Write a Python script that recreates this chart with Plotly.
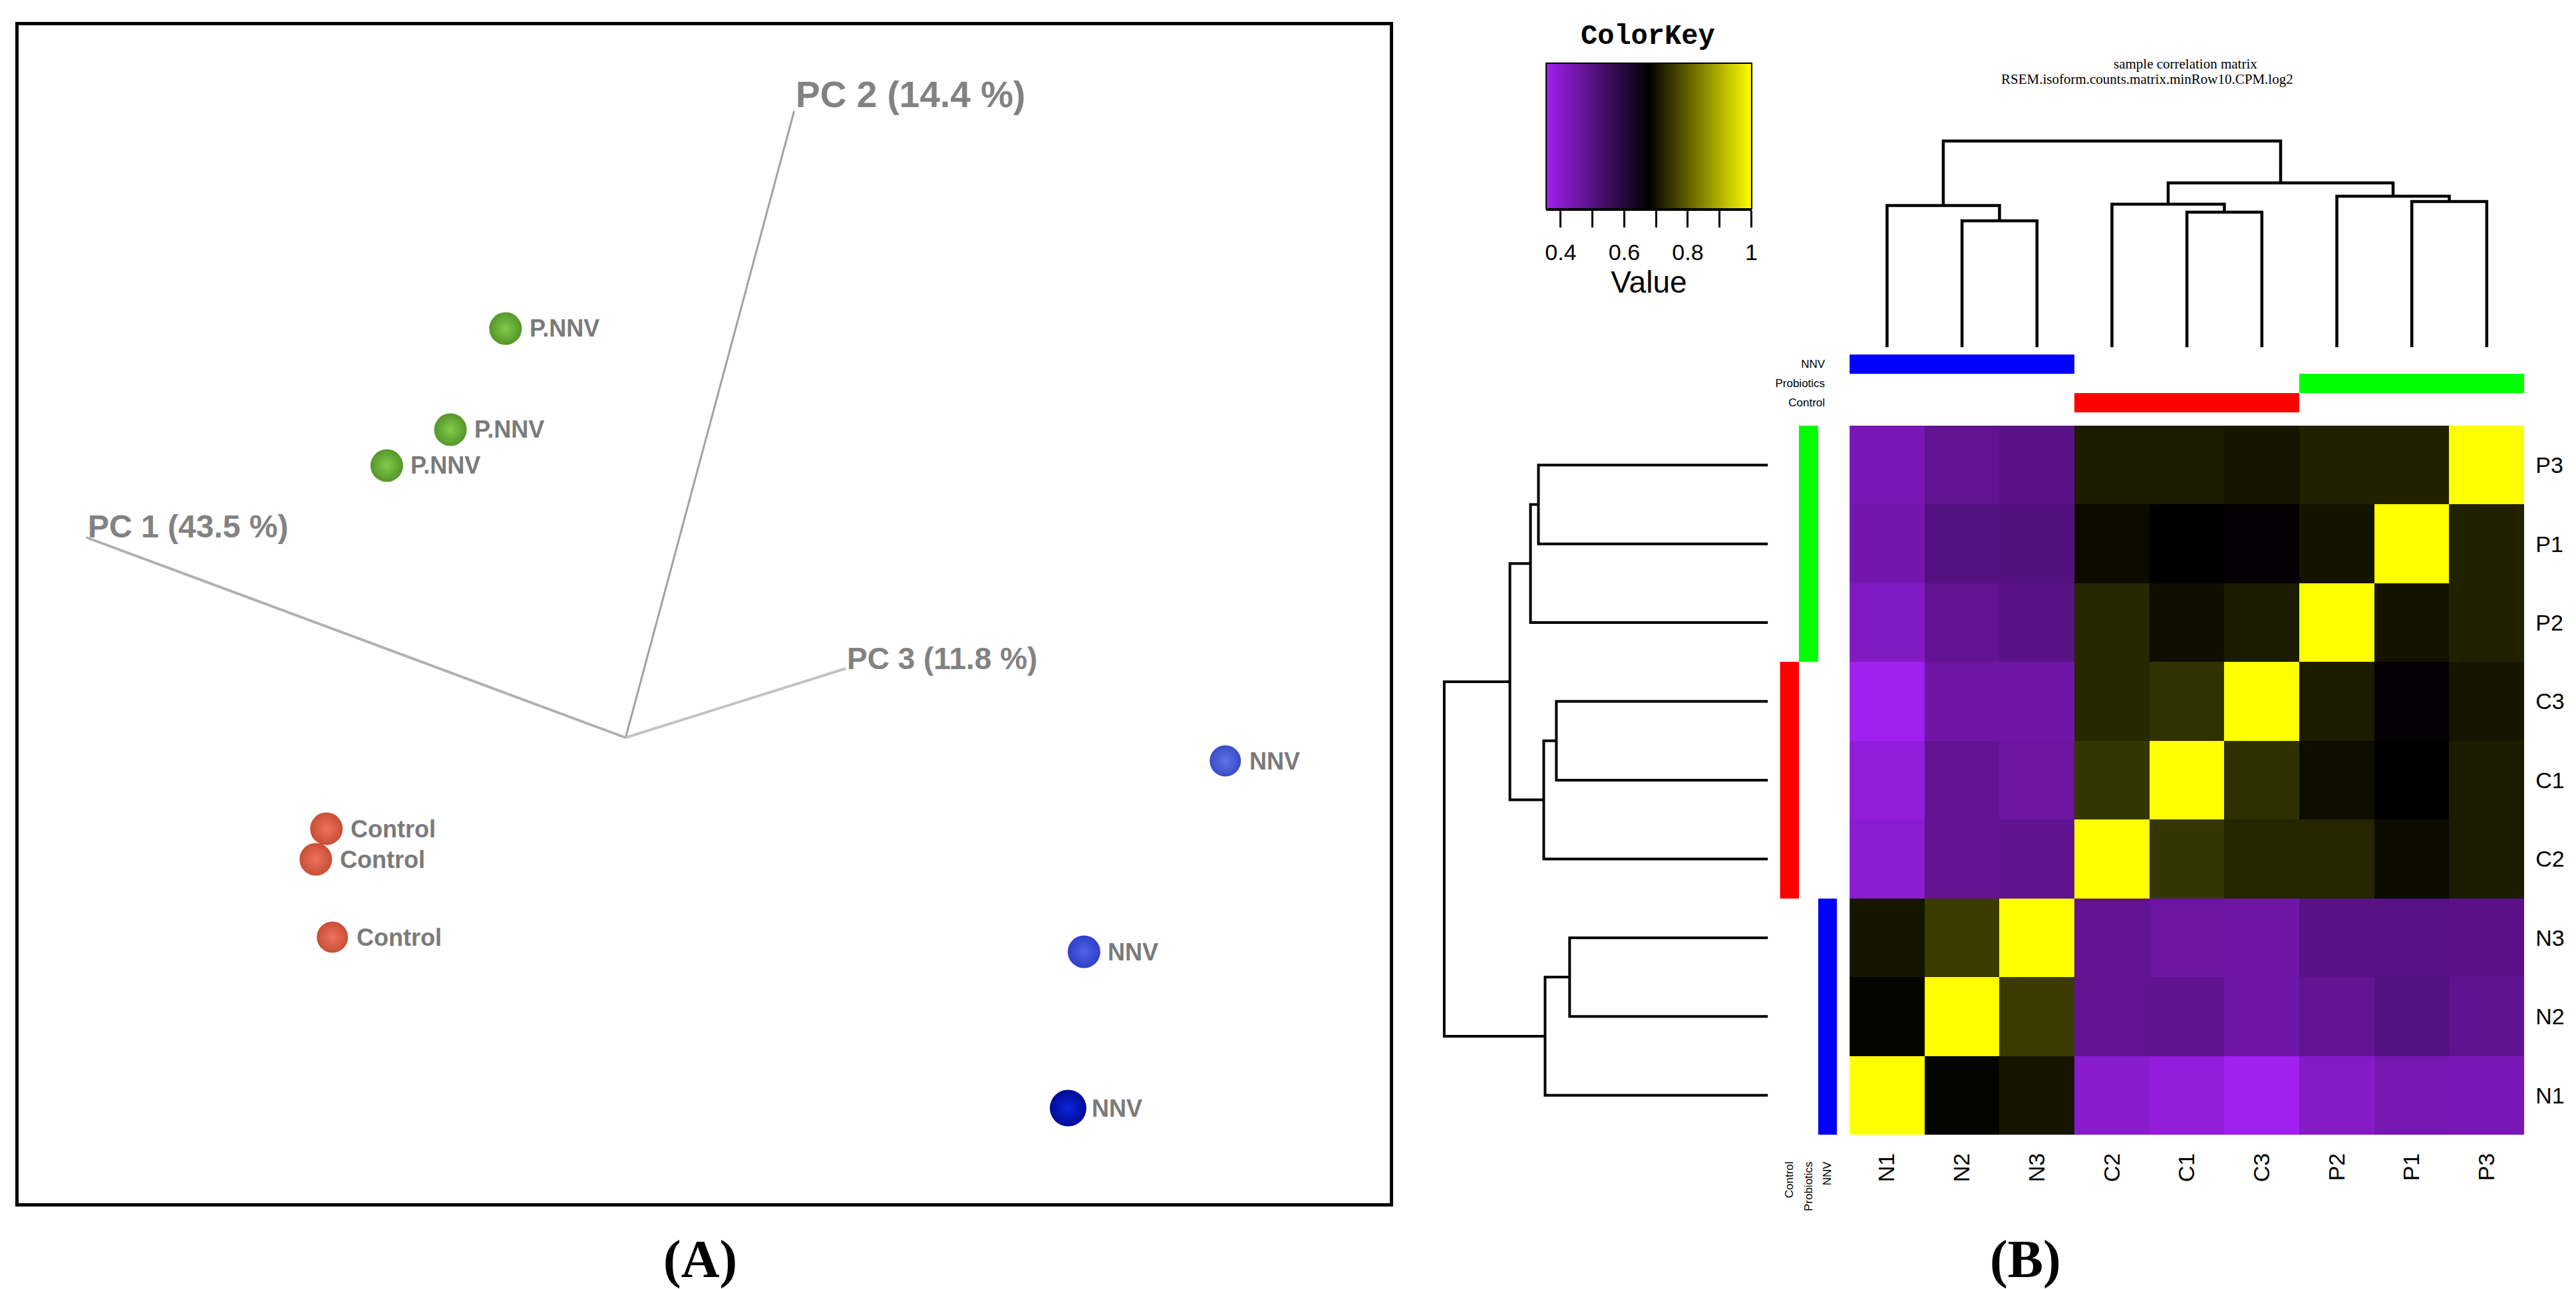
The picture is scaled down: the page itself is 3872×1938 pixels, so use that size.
import plotly.graph_objects as go

W, H = 3872, 1938
def px(x): return x / W
def py(y): return 1 - y / H

# ---------------- Panel A : PCA (projected screen units) ----------------
pca_labels = ["P.NNV", "P.NNV", "P.NNV", "Control", "Control", "Control", "NNV", "NNV", "NNV"]
pca_x = [-1.81, -2.64, -3.60, -4.51, -4.67, -4.42, 9.04, 6.91, 6.67]
pca_y = [6.15, 4.63, 4.09, -1.37, -1.83, -3.00, -0.35, -3.22, -5.57]
pc_names = ["PC 1 (43.5 %)", "PC 2 (14.4 %)", "PC 3 (11.8 %)"]
pc_end_x = [-8.13, 2.54, 3.32]
pc_end_y = [3.01, 9.42, 1.04]

# ---------------- Panel B : sample correlation heatmap ----------------
col_labels = ["N1", "N2", "N3", "C2", "C1", "C3", "P2", "P1", "P3"]
row_labels = ["P3", "P1", "P2", "C3", "C1", "C2", "N3", "N2", "N1"]   # top to bottom
corr = [
    [0.433, 0.482, 0.495, 0.712, 0.712, 0.704, 0.719, 0.719, 1.000],
    [0.446, 0.506, 0.509, 0.691, 0.676, 0.672, 0.701, 1.000, 0.719],
    [0.417, 0.482, 0.501, 0.727, 0.694, 0.712, 1.000, 0.701, 0.719],
    [0.355, 0.455, 0.455, 0.727, 0.741, 1.000, 0.712, 0.672, 0.704],
    [0.384, 0.482, 0.462, 0.745, 1.000, 0.737, 0.694, 0.676, 0.712],
    [0.397, 0.482, 0.487, 1.000, 0.745, 0.724, 0.724, 0.691, 0.712],
    [0.704, 0.752, 1.000, 0.482, 0.462, 0.455, 0.498, 0.503, 0.495],
    [0.684, 1.000, 0.752, 0.482, 0.487, 0.455, 0.479, 0.506, 0.487],
    [1.000, 0.684, 0.704, 0.403, 0.384, 0.355, 0.410, 0.441, 0.433],
]
group_names = ["NNV", "Probiotics", "Control"]
group_of_prefix = {"N": "NNV", "P": "Probiotics", "C": "Control"}
# dendrogram merges: (child a, child b, height); leaves are 0..8 in display order
col_merges = [(1, 2, 190), (0, 9, 213), (4, 5, 203), (3, 11, 215),
              (7, 8, 219), (6, 13, 227), (12, 14, 247), (10, 15, 310)]
row_merges = [(0, 1, 346), (2, 9, 358), (3, 4, 319), (5, 11, 338),
              (10, 12, 389), (6, 7, 299), (8, 14, 336), (13, 15, 488)]
key_ticks = [0.4, 0.5, 0.6, 0.7, 0.8, 0.9, 1.0]
key_ticktext = ["0.4", "", "0.6", "", "0.8", "", "1"]

# ---------------- styles ----------------
group_code = {"NNV": 1, "Probiotics": 2, "Control": 3}
group_scale = [[0, "white"], [0.1667, "white"], [0.1667, "#0000ff"], [0.5, "#0000ff"],
               [0.5, "#00ff00"], [0.8333, "#00ff00"], [0.8333, "#ff0000"], [1, "#ff0000"]]
sphere_edge = ["#55962a"] * 3 + ["#c84e36"] * 3 + ["#3a4cc8", "#2e40c8", "#000a94"]
sphere_core = ["#80cc4a"] * 3 + ["#ee735a"] * 3 + ["#6074e6", "#5064e6", "#0e26da"]
sphere_size = [49, 49, 49, 49, 49, 47, 47, 49, 55]
pc_line_color = ["#b0b0b0", "#a2a2a2", "#c2c2c2"]
pc_line_width = [4, 3, 4]
pc_font_size = [48, 55, 46]
pc_yshift = [16, 25, 15]

SANS = "Liberation Sans, Arial, sans-serif"
SERIF = "Liberation Serif, Times New Roman, serif"

fig = go.Figure()

# ---- Panel A ----
for i in range(3):
    fig.add_trace(go.Scatter(x=[0, pc_end_x[i]], y=[0, pc_end_y[i]], mode="lines",
                             line=dict(color=pc_line_color[i], width=pc_line_width[i]),
                             xaxis="x", yaxis="y", hoverinfo="skip"))
fig.add_trace(go.Scatter(x=pca_x, y=pca_y, mode="markers", xaxis="x", yaxis="y",
                         marker=dict(size=sphere_size, color=sphere_edge, opacity=1,
                                     gradient=dict(type="radial", color=sphere_core),
                                     line=dict(width=0)),
                         text=pca_labels, hoverinfo="text"))

annotations = []
for xv, yv, lab in zip(pca_x, pca_y, pca_labels):
    annotations.append(dict(x=xv, y=yv, xref="x", yref="y", text=lab, showarrow=False,
                            xanchor="left", yanchor="middle", xshift=34,
                            font=dict(family=SANS, size=36, color="#7a7a7a", weight="bold")))
for i in range(3):
    annotations.append(dict(x=pc_end_x[i], y=pc_end_y[i], xref="x", yref="y", text=pc_names[i],
                            showarrow=False, xanchor="left", yanchor="middle", yshift=pc_yshift[i],
                            font=dict(family=SANS, size=pc_font_size[i], color="#828282", weight="bold")))

# ---- Panel B heatmap ----
zmin = min(min(r) for r in corr)
zmax = max(max(r) for r in corr)
fig.add_trace(go.Heatmap(
    z=corr, x=col_labels, y=row_labels, xaxis="x2", yaxis="y2",
    colorscale=[[0, "#a020f0"], [0.5, "#000000"], [1, "#ffff00"]], zmin=zmin, zmax=zmax,
    colorbar=dict(orientation="h", x=px(2475.5), xanchor="center", y=py(87), yanchor="top",
                  len=309, lenmode="pixels", thickness=219, thicknessmode="pixels",
                  outlinewidth=2, outlinecolor="black", showticklabels=False, ticks="",
                  xpad=0, ypad=0)))

# dendrograms
def dendro_segments(n, merges):
    pos = {i: float(i) for i in range(n)}
    ht = {i: 0.0 for i in range(n)}
    P, D = [], []
    for k, (a, b, h) in enumerate(merges):
        P += [pos[a], pos[a], pos[b], pos[b], None]
        D += [ht[a], h, h, ht[b], None]
        pos[n + k] = (pos[a] + pos[b]) / 2
        ht[n + k] = h
    return P, D

cp, cd = dendro_segments(len(col_labels), col_merges)
fig.add_trace(go.Scatter(x=cp, y=cd, mode="lines", line=dict(color="black", width=4.5),
                         xaxis="x3", yaxis="y3", hoverinfo="skip"))
rp, rd = dendro_segments(len(row_labels), row_merges)
fig.add_trace(go.Scatter(x=rd, y=rp, mode="lines", line=dict(color="black", width=4),
                         xaxis="x4", yaxis="y4", hoverinfo="skip"))

# side colour bars
top_z = [[group_code[g] if group_of_prefix[c[0]] == g else 0 for c in col_labels] for g in group_names]
fig.add_trace(go.Heatmap(z=top_z, x=col_labels, y=group_names, xaxis="x5", yaxis="y5",
                         colorscale=group_scale, zmin=0, zmax=3, showscale=False, hoverinfo="skip"))
side_groups = ["Control", "Probiotics", "NNV"]
side_z = [[group_code[g] if group_of_prefix[r[0]] == g else 0 for g in side_groups] for r in row_labels]
fig.add_trace(go.Heatmap(z=side_z, x=side_groups, y=row_labels, xaxis="x6", yaxis="y6",
                         colorscale=group_scale, zmin=0, zmax=3, showscale=False, hoverinfo="skip"))

# colour key axis (ticks + label under the colour bar)
fig.add_trace(go.Scatter(x=[zmin, zmax], y=[0.5, 0.5], mode="markers", marker=dict(opacity=0),
                         xaxis="x7", yaxis="y7", hoverinfo="skip"))

annotations += [
    dict(x=px(2474), y=py(47), xref="paper", yref="paper", text="ColorKey", showarrow=False,
         xanchor="center", yanchor="middle",
         font=dict(family="Liberation Mono, Courier New, monospace", size=42, color="black", weight="bold")),
    dict(x=px(3284), y=py(88), xref="paper", yref="paper", text="sample correlation matrix", showarrow=False,
         xanchor="center", yanchor="middle", font=dict(family=SERIF, size=21, color="black")),
    dict(x=px(3227), y=py(111), xref="paper", yref="paper", text="RSEM.isoform.counts.matrix.minRow10.CPM.log2",
         showarrow=False, xanchor="center", yanchor="middle", font=dict(family=SERIF, size=21, color="black")),
    dict(x=px(1045), y=py(1885), xref="paper", yref="paper", text="<b>(A)</b>", showarrow=False,
         xanchor="center", yanchor="middle", font=dict(family=SERIF, size=80, color="black")),
    dict(x=px(3043), y=py(1885), xref="paper", yref="paper", text="<b>(B)</b>", showarrow=False,
         xanchor="center", yanchor="middle", font=dict(family=SERIF, size=80, color="black")),
]

hidden = dict(visible=False, showgrid=False, zeroline=False)
hm_xdom = [px(2778), px(3795)]
hm_ydom = [py(1698), py(632)]

fig.update_layout(
    width=W, height=H, margin=dict(l=0, r=0, t=0, b=0),
    paper_bgcolor="white", plot_bgcolor="white", showlegend=False,
    font=dict(family=SANS, color="black"),
    annotations=annotations,
    xaxis=dict(domain=[px(18), px(2085)], range=[-9.15, 11.52], anchor="y",
               showline=True, mirror=True, linewidth=5, linecolor="black",
               showgrid=False, zeroline=False, showticklabels=False, ticks=""),
    yaxis=dict(domain=[py(1801), py(30)], range=[-7.0, 10.71], anchor="x",
               showline=True, mirror=True, linewidth=5, linecolor="black",
               showgrid=False, zeroline=False, showticklabels=False, ticks=""),
    xaxis2=dict(domain=hm_xdom, anchor="y2", tickangle=-90, tickfont=dict(size=34),
                ticks="", showgrid=False, zeroline=False, ticklabelstandoff=20),
    yaxis2=dict(domain=hm_ydom, anchor="x2", side="right", autorange="reversed",
                tickfont=dict(size=34), ticks="", showgrid=False, zeroline=False,
                ticklabelstandoff=16),
    xaxis3=dict(domain=hm_xdom, anchor="y3", range=[-0.5, 8.5], **hidden),
    yaxis3=dict(domain=[py(514), py(194)], anchor="x3", range=[0, 320], **hidden),
    xaxis4=dict(domain=[px(2155), px(2655)], anchor="y4", range=[500, 0], **hidden),
    yaxis4=dict(domain=hm_ydom, anchor="x4", range=[8.5, -0.5], **hidden),
    xaxis5=dict(domain=hm_xdom, anchor="y5", showticklabels=False, ticks="", showgrid=False, zeroline=False),
    yaxis5=dict(domain=[py(612), py(525)], anchor="x5", autorange="reversed", side="left",
                tickfont=dict(size=17), ticks="", showgrid=False, zeroline=False, ticklabelstandoff=36),
    xaxis6=dict(domain=[px(2673), px(2759)], anchor="y6", tickangle=-90, tickfont=dict(size=17),
                ticks="", showgrid=False, zeroline=False, ticklabelstandoff=36),
    yaxis6=dict(domain=hm_ydom, anchor="x6", autorange="reversed", showticklabels=False,
                ticks="", showgrid=False, zeroline=False),
    xaxis7=dict(domain=[px(2321), px(2630)], anchor="y7", range=[zmin, zmax],
                tickvals=key_ticks, ticktext=key_ticktext, ticks="outside", ticklen=25,
                tickwidth=3, tickcolor="black", showline=True, linewidth=3, linecolor="black",
                tickfont=dict(size=34), ticklabelstandoff=8, showgrid=False, zeroline=False,
                title=dict(text="Value", font=dict(size=46), standoff=0)),
    yaxis7=dict(domain=[py(306), py(87)], anchor="x7", range=[0, 1], **hidden),
)

fig.write_html("out.html")
